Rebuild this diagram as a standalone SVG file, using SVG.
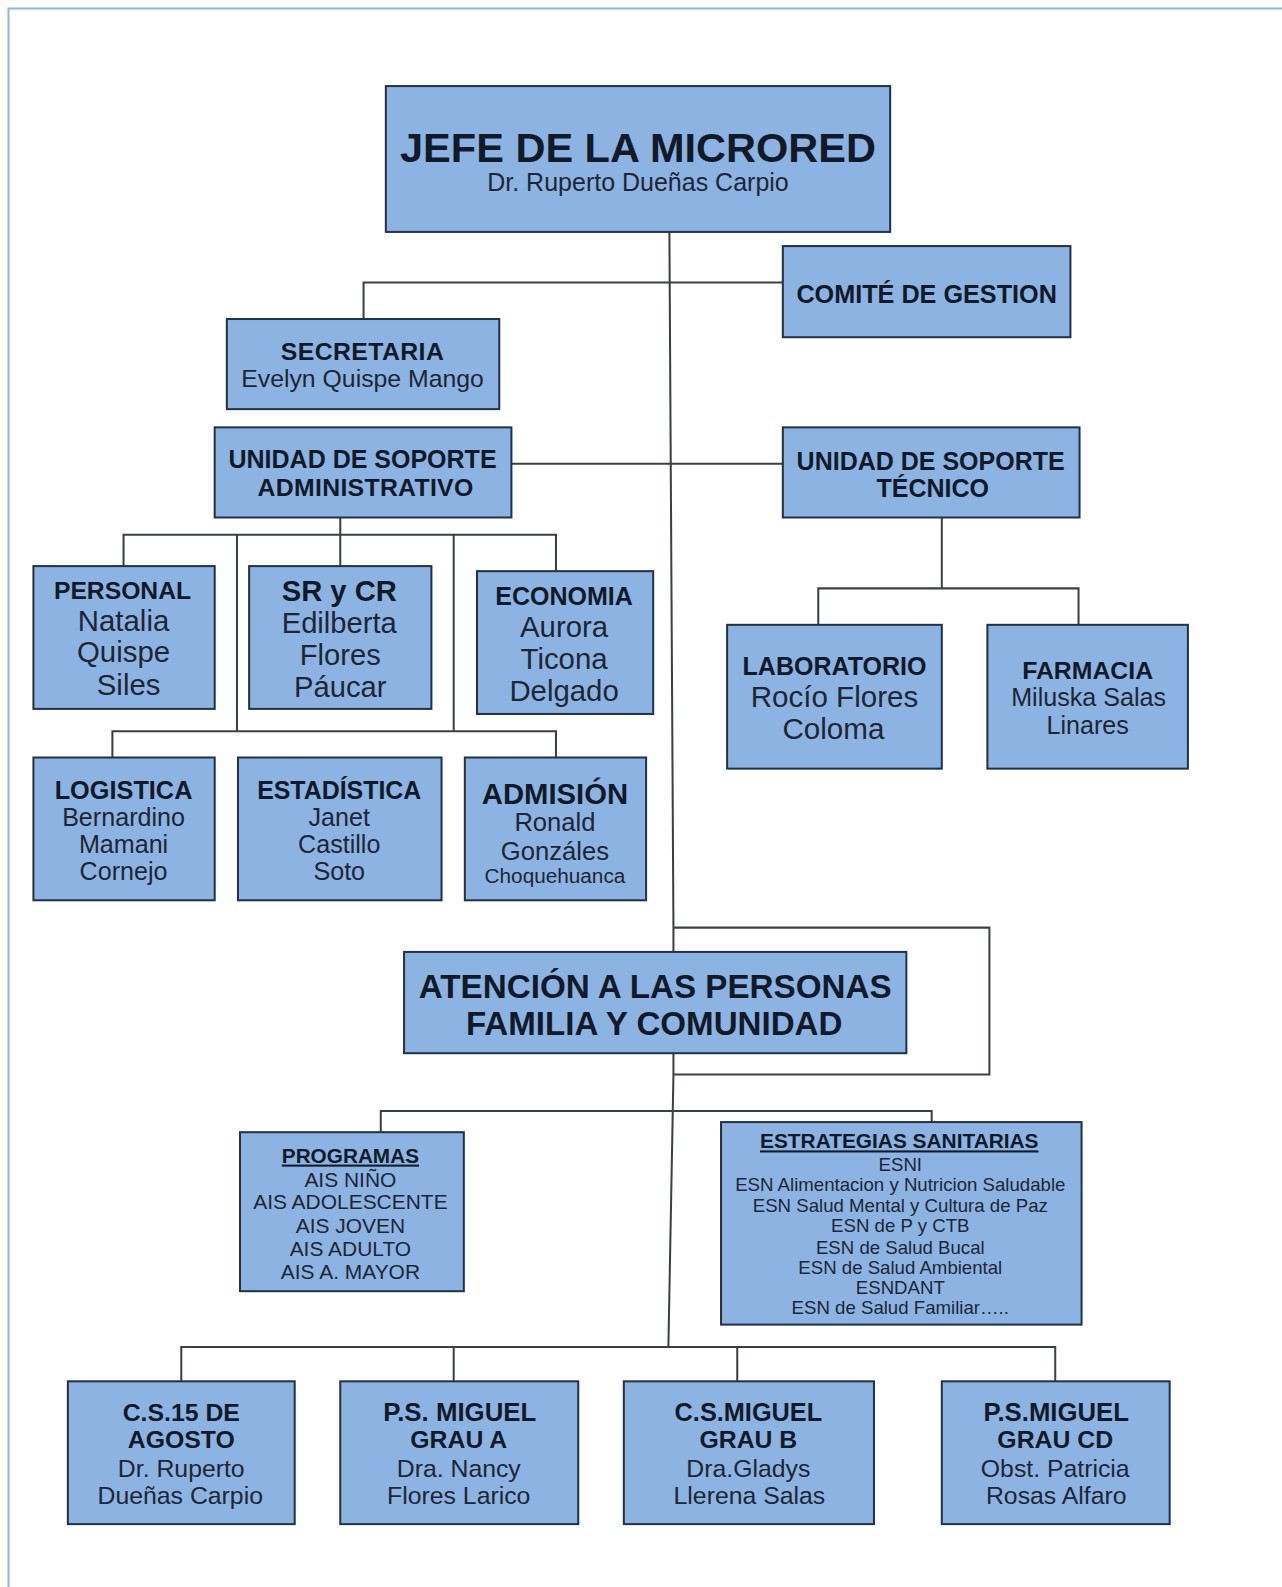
<svg xmlns="http://www.w3.org/2000/svg" width="1282" height="1587" viewBox="0 0 1282 1587">
<style>
.bx{fill:#8db3e2;stroke:#243246;stroke-width:2}
.t{font-family:"Liberation Sans",Arial,sans-serif;text-anchor:middle;fill:#1c2637}
.b{font-weight:bold;fill:#111a2b}
.u{text-decoration:underline}
.c{fill:none;stroke:#3c4045;stroke-width:2}
</style>
<rect width="1282" height="1587" fill="#ffffff"/>
<path d="M8.5,1587 V8.5 H1282" fill="none" stroke="#8fb4e6" stroke-width="2"/>
<g transform="scale(1.0127)">
<g id="connectors">
<polyline class="c" points="661,229 665,916 665,1061 660,1330"/>
<polyline class="c" points="665,916 977,916 977,1061 665,1061"/>
<polyline class="c" points="359,315 359,279 773,279"/>
<line class="c" x1="505" y1="458" x2="773" y2="458"/>
<line class="c" x1="336" y1="511" x2="336" y2="559"/>
<polyline class="c" points="122,559 122,528 549,528 549,564"/>
<line class="c" x1="234" y1="528" x2="234" y2="722"/>
<line class="c" x1="448" y1="528" x2="448" y2="722"/>
<polyline class="c" points="111,748 111,722 549,722 549,748"/>
<line class="c" x1="930" y1="511" x2="930" y2="581"/>
<polyline class="c" points="808,617 808,581 1065,581 1065,617"/>
<polyline class="c" points="376,1118 376,1097 920,1097 920,1108"/>
<polyline class="c" points="179,1364 179,1330 1042,1330 1042,1364"/>
<line class="c" x1="448" y1="1330" x2="448" y2="1364"/>
<line class="c" x1="728" y1="1330" x2="728" y2="1364"/>
</g>
<g id="jefe">
<rect class="bx" x="381" y="85" width="498" height="144"/>
<text class="t b" x="630" y="160" font-size="41">JEFE DE LA MICRORED</text>
<text class="t" x="630" y="189" font-size="24.7">Dr. Ruperto Dueñas Carpio</text>
</g>
<g id="comite">
<rect class="bx" x="773" y="243" width="284" height="90"/>
<text class="t b" x="915" y="299" font-size="24.9">COMITÉ DE GESTION</text>
</g>
<g id="secretaria">
<rect class="bx" x="224" y="315" width="269" height="89"/>
<text class="t b" x="358" y="355" font-size="24.5" letter-spacing="0.4">SECRETARIA</text>
<text class="t" x="358" y="382" font-size="24.5">Evelyn Quispe Mango</text>
</g>
<g id="soporte-admin">
<rect class="bx" x="212" y="422" width="293" height="89"/>
<text class="t b" x="358" y="462" font-size="24.7">UNIDAD DE SOPORTE</text>
<text class="t b" x="361" y="490" font-size="24.5" letter-spacing="0.3">ADMINISTRATIVO</text>
</g>
<g id="soporte-tecnico">
<rect class="bx" x="773" y="422" width="293" height="89"/>
<text class="t b" x="919" y="464" font-size="24.7">UNIDAD DE SOPORTE</text>
<text class="t b" x="921" y="491" font-size="24.7">TÉCNICO</text>
</g>
<g id="personal">
<rect class="bx" x="33" y="559" width="179" height="141"/>
<text class="t b" x="121" y="591" font-size="24.4">PERSONAL</text>
<text class="t" x="122" y="623" font-size="29">Natalia</text>
<text class="t" x="122" y="654" font-size="29">Quispe</text>
<text class="t" x="127" y="686" font-size="29">Siles</text>
</g>
<g id="sr-cr">
<rect class="bx" x="246" y="559" width="180" height="141"/>
<text class="t b" x="335" y="593" font-size="28.8">SR y CR</text>
<text class="t" x="335" y="625" font-size="28.8">Edilberta</text>
<text class="t" x="336" y="657" font-size="28.8">Flores</text>
<text class="t" x="336" y="688" font-size="28.8">Páucar</text>
</g>
<g id="economia">
<rect class="bx" x="471" y="564" width="174" height="141"/>
<text class="t b" x="557" y="597" font-size="24.7">ECONOMIA</text>
<text class="t" x="557" y="629" font-size="29">Aurora</text>
<text class="t" x="557" y="661" font-size="29">Ticona</text>
<text class="t" x="557" y="692" font-size="29">Delgado</text>
</g>
<g id="logistica">
<rect class="bx" x="33" y="748" width="179" height="141"/>
<text class="t b" x="122" y="789" font-size="25">LOGISTICA</text>
<text class="t" x="122" y="816" font-size="24.8">Bernardino</text>
<text class="t" x="122" y="842" font-size="24.8">Mamani</text>
<text class="t" x="122" y="869" font-size="24.8">Cornejo</text>
</g>
<g id="estadistica">
<rect class="bx" x="235" y="748" width="201" height="141"/>
<text class="t b" x="335" y="789" font-size="24.6">ESTADÍSTICA</text>
<text class="t" x="335" y="816" font-size="24.8">Janet</text>
<text class="t" x="335" y="842" font-size="24.8">Castillo</text>
<text class="t" x="335" y="869" font-size="24.8">Soto</text>
</g>
<g id="admision">
<rect class="bx" x="459" y="748" width="179" height="141"/>
<text class="t b" x="548" y="794" font-size="28.9">ADMISIÓN</text>
<text class="t" x="548" y="821" font-size="25.3">Ronald</text>
<text class="t" x="548" y="849" font-size="25.3">Gonzáles</text>
<text class="t" x="548" y="872" font-size="20.5">Choquehuanca</text>
</g>
<g id="laboratorio">
<rect class="bx" x="718" y="617" width="212" height="142"/>
<text class="t b" x="824" y="667" font-size="24.7">LABORATORIO</text>
<text class="t" x="824" y="698" font-size="29.2">Rocío Flores</text>
<text class="t" x="823" y="730" font-size="29.2">Coloma</text>
</g>
<g id="farmacia">
<rect class="bx" x="975" y="617" width="198" height="142"/>
<text class="t b" x="1074" y="670" font-size="24.5">FARMACIA</text>
<text class="t" x="1075" y="697" font-size="24.8">Miluska Salas</text>
<text class="t" x="1074" y="725" font-size="24.8">Linares</text>
</g>
<g id="atencion">
<rect class="bx" x="399" y="940" width="496" height="100"/>
<text class="t b" x="647" y="985" font-size="32.8">ATENCIÓN A LAS PERSONAS</text>
<text class="t b" x="646" y="1022" font-size="32.7">FAMILIA Y COMUNIDAD</text>
</g>
<g id="programas">
<rect class="bx" x="237" y="1118" width="221" height="157"/>
<text class="t b u" x="346" y="1148" font-size="20.5">PROGRAMAS</text>
<text class="t" x="346" y="1172" font-size="20.7">AIS NIÑO</text>
<text class="t" x="346" y="1194" font-size="20.7">AIS ADOLESCENTE</text>
<text class="t" x="346" y="1218" font-size="20.7">AIS JOVEN</text>
<text class="t" x="346" y="1240" font-size="20.7">AIS ADULTO</text>
<text class="t" x="346" y="1263" font-size="20.7">AIS A. MAYOR</text>
</g>
<g id="estrategias">
<rect class="bx" x="712" y="1108" width="356" height="200"/>
<text class="t b u" x="888" y="1134" font-size="20.6">ESTRATEGIAS SANITARIAS</text>
<text class="t" x="889" y="1156" font-size="18.4">ESNI</text>
<text class="t" x="889" y="1176" font-size="18.4">ESN Alimentacion y Nutricion Saludable</text>
<text class="t" x="889" y="1197" font-size="18.4">ESN Salud Mental y Cultura de Paz</text>
<text class="t" x="889" y="1217" font-size="18.4">ESN de P y CTB</text>
<text class="t" x="889" y="1238" font-size="18.4">ESN de Salud Bucal</text>
<text class="t" x="889" y="1258" font-size="18.4">ESN de Salud Ambiental</text>
<text class="t" x="889" y="1278" font-size="18.4">ESNDANT</text>
<text class="t" x="889" y="1298" font-size="18.4">ESN de Salud Familiar…..</text>
</g>
<g id="cs-15-agosto">
<rect class="bx" x="67" y="1364" width="224" height="141"/>
<text class="t b" x="179" y="1403" font-size="24.5">C.S.15 DE</text>
<text class="t b" x="179" y="1430" font-size="24.5">AGOSTO</text>
<text class="t" x="179" y="1458" font-size="24.5">Dr. Ruperto</text>
<text class="t" x="178" y="1485" font-size="24.5">Dueñas Carpio</text>
</g>
<g id="ps-grau-a">
<rect class="bx" x="336" y="1364" width="235" height="141"/>
<text class="t b" x="454" y="1403" font-size="25.5">P.S. MIGUEL</text>
<text class="t b" x="453" y="1430" font-size="24.5">GRAU A</text>
<text class="t" x="453" y="1458" font-size="24.5">Dra. Nancy</text>
<text class="t" x="453" y="1485" font-size="24.5">Flores Larico</text>
</g>
<g id="cs-grau-b">
<rect class="bx" x="616" y="1364" width="247" height="141"/>
<text class="t b" x="739" y="1403" font-size="25">C.S.MIGUEL</text>
<text class="t b" x="739" y="1430" font-size="24.5">GRAU B</text>
<text class="t" x="739" y="1458" font-size="24.5">Dra.Gladys</text>
<text class="t" x="740" y="1485" font-size="24.5">Llerena Salas</text>
</g>
<g id="ps-grau-cd">
<rect class="bx" x="930" y="1364" width="225" height="141"/>
<text class="t b" x="1043" y="1403" font-size="25.4">P.S.MIGUEL</text>
<text class="t b" x="1042" y="1430" font-size="24.5">GRAU CD</text>
<text class="t" x="1042" y="1458" font-size="24.5">Obst. Patricia</text>
<text class="t" x="1043" y="1485" font-size="24.5">Rosas Alfaro</text>
</g>
</g>
</svg>
